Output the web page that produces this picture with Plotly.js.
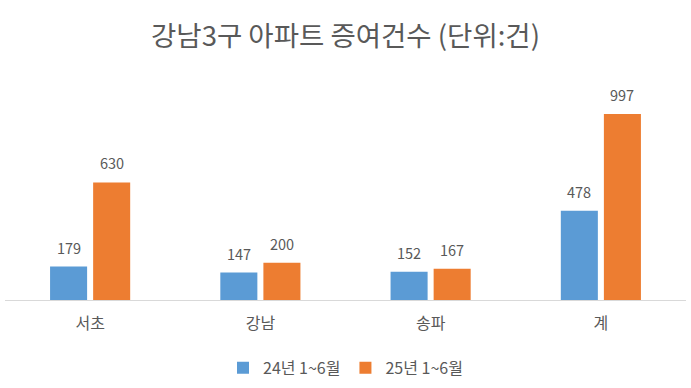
<!DOCTYPE html>
<html>
<head>
<meta charset="utf-8">
<script src="https://cdn.plot.ly/plotly-3.0.1.min.js"></script>
<style>html,body{margin:0;padding:0;background:#fff;}#chart{width:691px;height:388px;}</style>
</head>
<body>
<div id="chart"></div>
<script>
const categories = ['서초', '강남', '송파', '계'];
const seriesNames = ['24년 1~6월', '25년 1~6월'];
const values2024 = [179, 147, 152, 478];
const values2025 = [630, 200, 167, 997];
const colors = ['#5B9BD5', '#ED7D31'];

const FONT = '"Noto Sans CJK KR", "Malgun Gothic", sans-serif';
const TEXT = '#595959';

const traces = [values2024, values2025].map((vals, i) => ({
  type: 'bar',
  name: seriesNames[i],
  x: categories,
  y: vals,
  marker: {color: colors[i]},
  hoverinfo: 'x+y'
}));

const annotations = [];
[values2024, values2025].forEach((vals, i) => {
  vals.forEach((v, j) => {
    annotations.push({
      x: categories[j], y: v, xref: 'x', yref: 'y',
      text: String(v), showarrow: false,
      xanchor: 'center', yanchor: 'bottom',
      xshift: i === 0 ? -21.5 : 21.5, yshift: 7,
      font: {family: FONT, size: 14.5, color: TEXT}
    });
  });
});

const layout = {
  width: 691, height: 388,
  margin: {l: 5, r: 5, t: 76, b: 88, autoexpand: false},
  paper_bgcolor: '#fff', plot_bgcolor: '#fff',
  title: {
    text: '강남3구 아파트 증여건수 (단위:건)',
    font: {family: FONT, size: 27.5, color: TEXT},
    x: 0.5, xanchor: 'center', y: 0.905, yanchor: 'middle'
  },
  font: {family: FONT, color: TEXT},
  barmode: 'group',
  bargap: 0.494,
  bargroupgap: 0.14,
  xaxis: {
    type: 'category',
    showline: true, linecolor: '#D9D9D9', linewidth: 1,
    ticks: '', showgrid: false, zeroline: false,
    tickfont: {family: FONT, size: 16, color: TEXT},
    ticklabelstandoff: 9,
    fixedrange: true
  },
  yaxis: {
    range: [0, 1200],
    visible: false, showgrid: false, zeroline: false,
    fixedrange: true
  },
  showlegend: true,
  legend: {
    orientation: 'h', x: 0.5, xanchor: 'center', xref: 'container',
    y: 0.052, yanchor: 'middle', yref: 'container',
    font: {family: FONT, size: 16, color: TEXT},
    itemwidth: 30, tracegroupgap: 0
  },
  annotations: annotations
};

Plotly.newPlot('chart', traces, layout, {displayModeBar: false, staticPlot: true});
</script>
</body>
</html>
